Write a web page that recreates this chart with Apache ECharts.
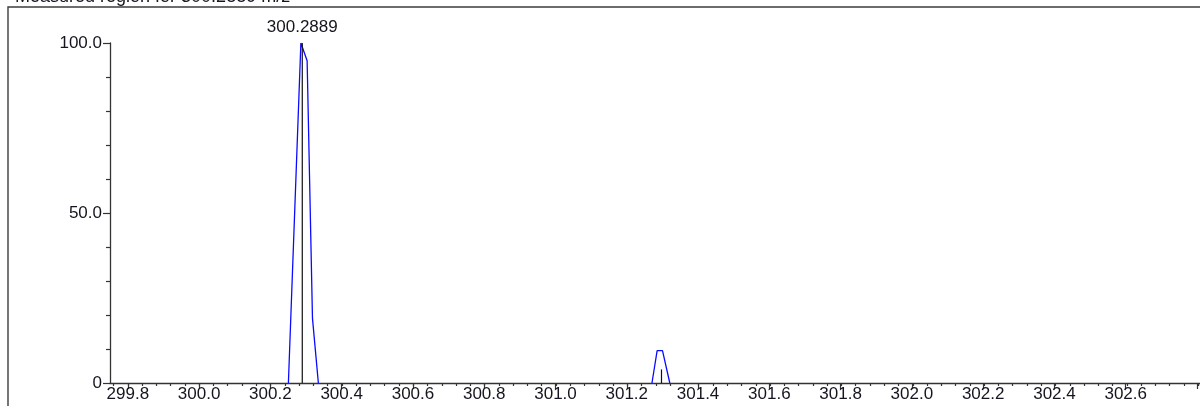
<!DOCTYPE html>
<html>
<head>
<meta charset="utf-8">
<script src="https://cdn.jsdelivr.net/npm/echarts@6/dist/echarts.min.js"></script>
<style>
html,body{margin:0;padding:0;background:#fff;}
#chart{width:1200px;height:406px;}
</style>
</head>
<body>
<div id="chart"></div>
<script>
// ---- data ----
const titleText = 'Measured region for 300.2889 m/z';
const profileMain = [[300.250, 0], [300.285, 100], [300.3025, 94.8], [300.3175, 19], [300.334, 0]];
const profileIso = [[301.269, 0], [301.2835, 9.5], [301.2985, 9.5], [301.319, 0]];
const stickMz = [300.2889, 301.2957];
const stickIntensity = [100, 4];
const stickLabels = ['300.2889', ''];
const xMin = 299.75, xMax = 302.805;
const xMajorStart = 299.8, xMajorStep = 0.2;
const xMinorStart = 299.76, xMinorStep = 0.04;
const yMin = 0, yMax = 100, yStep = 50, yMinorSplit = 5;

// ---- layout ----
const W = 1200, H = 406;
const gLeft = 110, gTop = 43, gBottom = 23;
const pxPerUnit = (W - gLeft) / (xMax - xMin);
const FONT = "'Liberation Sans', Arial, sans-serif";
const AX = '#333333';
const TXT = '#15151f';

const chart = echarts.init(document.getElementById('chart'), null, {renderer: 'canvas'});

const stickData = stickMz.map((m, i) => [m, stickIntensity[i], i]);

const option = {
  animation: false,
  backgroundColor: '#ffffff',
  graphic: [
    {type: 'rect', shape: {x: 8, y: 7, width: 1400, height: 600}, style: {fill: 'none', stroke: '#3c3c3c', lineWidth: 1.4}, z: 0, silent: true},
    {type: 'text', x: 15, y: -3, style: {text: titleText, font: '18px ' + FONT, fill: TXT, verticalAlign: 'middle', align: 'left'}, z: 10}
  ],
  grid: [
    {left: gLeft, right: 0, top: gTop, bottom: gBottom},
    {left: gLeft + (xMinorStart - xMin) * pxPerUnit, right: 0, top: gTop, bottom: gBottom},
    {left: gLeft + (xMajorStart - xMin) * pxPerUnit, right: 0, top: gTop, bottom: gBottom}
  ],
  xAxis: [
    {gridIndex: 0, type: 'value', position: 'bottom', min: xMin, max: xMax, splitLine: {show: false},
     axisLine: {show: true, onZero: false, lineStyle: {color: AX, width: 1.3}}, axisTick: {show: false}, axisLabel: {show: false}},
    {gridIndex: 1, type: 'value', position: 'bottom', min: xMinorStart, max: xMax, interval: xMinorStep, splitLine: {show: false},
     axisLine: {show: false, onZero: false}, axisTick: {show: true, inside: false, length: 3, lineStyle: {color: AX, width: 1.2}}, axisLabel: {show: false}},
    {gridIndex: 2, type: 'value', position: 'bottom', min: xMajorStart, max: xMax, interval: xMajorStep, splitLine: {show: false},
     axisLine: {show: false, onZero: false}, axisTick: {show: true, inside: false, length: 6, lineStyle: {color: AX, width: 1.2}},
     axisLabel: {show: true, margin: 3, fontSize: 17, fontFamily: FONT, color: TXT,
       showMinLabel: true, showMaxLabel: false,
       formatter: v => (v > xMax - 0.1 ? '' : v.toFixed(1))}}
  ],
  yAxis: [
    {gridIndex: 0, type: 'value', min: yMin, max: yMax, interval: yStep, splitLine: {show: false},
     axisLine: {show: true, onZero: false, lineStyle: {color: AX, width: 1.3}},
     axisTick: {show: true, length: 7, lineStyle: {color: AX, width: 1.2}},
     minorTick: {show: true, splitNumber: yMinorSplit, length: 4, lineStyle: {color: AX, width: 1.2}},
     minorSplitLine: {show: false},
     axisLabel: {show: true, margin: 8, fontSize: 17, fontFamily: FONT, color: TXT,
       formatter: v => (v === 0 ? '0' : v.toFixed(1))}},
    {gridIndex: 1, type: 'value', min: yMin, max: yMax, show: false},
    {gridIndex: 2, type: 'value', min: yMin, max: yMax, show: false}
  ],
  series: [
    {type: 'line', xAxisIndex: 0, yAxisIndex: 0, data: profileMain, symbol: 'none',
     lineStyle: {color: '#0a0aff', width: 1.3}, z: 3},
    {type: 'line', xAxisIndex: 0, yAxisIndex: 0, data: profileIso, symbol: 'none',
     lineStyle: {color: '#0a0aff', width: 1.3}, z: 3},
    {type: 'custom', xAxisIndex: 0, yAxisIndex: 0, data: stickData, z: 4,
     renderItem: function (params, api) {
       const x = api.value(0), y = api.value(1), idx = api.value(2);
       const p0 = api.coord([x, 0]);
       const p1 = api.coord([x, y]);
       const children = [{
         type: 'line', shape: {x1: p0[0], y1: p0[1], x2: p1[0], y2: p1[1]},
         style: {stroke: '#111111', lineWidth: 1.2}
       }];
       const lab = stickLabels[idx];
       if (lab) {
         children.push({type: 'text', x: p1[0], y: p1[1] - 16,
           style: {text: lab, font: '17px ' + FONT, fill: TXT, align: 'center', verticalAlign: 'middle'}});
       }
       return {type: 'group', children: children};
     }}
  ]
};
chart.setOption(option);
</script>
</body>
</html>
